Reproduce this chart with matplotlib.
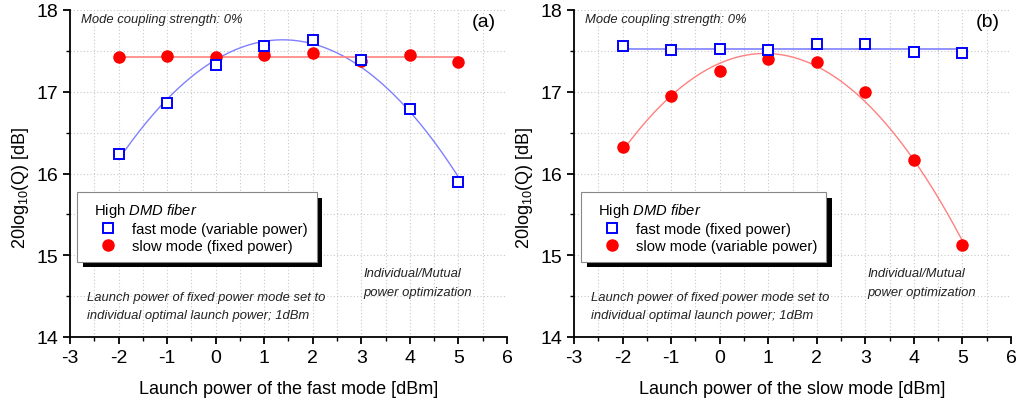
import matplotlib.pyplot as plt
import numpy as np
from matplotlib.ticker import MultipleLocator
import matplotlib.patheffects as pe

plt.rcParams["font.family"] = ["Liberation Sans", "DejaVu Sans"]
plt.rcParams["axes.unicode_minus"] = False
plt.rcParams["mathtext.fontset"] = "custom"
plt.rcParams["mathtext.rm"] = "Liberation Sans"
plt.rcParams["mathtext.it"] = "Liberation Sans:italic"

# launch power of the variable mode [dBm]
launch_power = [-2, -1, 0, 1, 2, 3, 4, 5]

# panel (a): fast mode varied, slow mode fixed
fast_a = [16.24, 16.86, 17.33, 17.56, 17.63, 17.385, 16.79, 15.89]
slow_a = [17.43, 17.44, 17.42, 17.45, 17.48, 17.38, 17.45, 17.37]

# panel (b): slow mode varied, fast mode fixed
fast_b = [17.56, 17.51, 17.52, 17.51, 17.59, 17.58, 17.49, 17.47]
slow_b = [16.33, 16.95, 17.25, 17.40, 17.36, 17.00, 16.16, 15.12]

panels = [
    ("(a)", "fast", fast_a, slow_a, "fast mode (variable power)", "slow mode (fixed power)"),
    ("(b)", "slow", fast_b, slow_b, "fast mode (fixed power)", "slow mode (variable power)"),
]

fig = plt.figure(figsize=(10.18, 4.02), dpi=100)
axes = [fig.add_axes([70 / 1018, 64 / 402, 437 / 1018, 327 / 402]),
        fig.add_axes([574 / 1018, 64 / 402, 437 / 1018, 327 / 402])]

x = np.array(launch_power, dtype=float)
xfit = np.linspace(-2, 5, 200)

for ax, (tag, varied, fast, slow, fast_lbl, slow_lbl) in zip(axes, panels):
    # fit lines: quadratic for the varied mode, constant for the fixed mode
    if varied == "fast":
        ax.plot(xfit, np.polyval(np.polyfit(x, fast, 2), xfit), color="#8080ff", lw=1, zorder=2)
        ax.plot([-2, 5], [np.mean(slow)] * 2, color="#ff8080", lw=1.2, zorder=2)
    else:
        ax.plot([-2, 5], [np.mean(fast)] * 2, color="#8080ff", lw=1.2, zorder=2)
        ax.plot(xfit, np.polyval(np.polyfit(x, slow, 2), xfit), color="#ff8080", lw=1, zorder=2)

    h1, = ax.plot(x, fast, "s", mfc="white", mec="#0000ff", mew=1.4, ms=6.5, zorder=4, label=fast_lbl)
    h2, = ax.plot(x, slow, "o", color="#ff0000", ms=8, zorder=3, label=slow_lbl)

    ax.set_xlim(-3, 6)
    ax.set_ylim(14, 18)
    ax.xaxis.set_major_locator(MultipleLocator(1))
    ax.xaxis.set_minor_locator(MultipleLocator(0.5))
    ax.yaxis.set_major_locator(MultipleLocator(1))
    ax.yaxis.set_minor_locator(MultipleLocator(0.5))
    ax.grid(True, which="both", ls=(0, (1, 2)), color="#c8c8c8", lw=0.8)
    ax.set_axisbelow(True)
    for s in ("top", "right"):
        ax.spines[s].set_visible(False)
    for s in ("left", "bottom"):
        ax.spines[s].set_linewidth(1.3)
    ax.tick_params(which="major", direction="out", length=5, width=1.3, labelsize=14)
    ax.tick_params(which="minor", direction="out", length=3, width=1)

    ax.set_xlabel(f"Launch power of the {varied} mode [dBm]", fontsize=13, labelpad=10)
    ax.set_ylabel("20log$_{10}$(Q) [dB]", fontsize=13)
    ax.yaxis.set_label_coords(-0.09, 0.46)

    ax.text(0.025, 0.972, "Mode coupling strength: 0%", transform=ax.transAxes,
            fontsize=9.4, style="italic", va="center", color="#222222")
    ax.text(0.975, 0.965, tag, transform=ax.transAxes, fontsize=14, ha="right", va="center")
    ax.text(-2.65, 14.38, "Launch power of fixed power mode set to\nindividual optimal launch power; 1dBm",
            fontsize=9.4, style="italic", va="center", linespacing=1.75, color="#222222")
    ax.text(3.05, 14.67, "Individual/Mutual\npower optimization",
            fontsize=9.4, style="italic", va="center", linespacing=1.75, color="#222222")

    leg = ax.legend(handles=[h1, h2], title="  High $\\mathit{DMD\\ fiber}$",
                    loc="upper left", bbox_to_anchor=(0.016, 0.443), fontsize=10.6,
                    title_fontsize=10.6, frameon=True, fancybox=False, shadow=False,
                    framealpha=1, borderpad=0.6, handletextpad=0.15, labelspacing=0.2,
                    handlelength=3.0, borderaxespad=0)
    leg._legend_box.align = "left"
    frame = leg.get_frame()
    frame.set_facecolor("white")
    frame.set_edgecolor("#888888")
    frame.set_linewidth(0.8)
    frame.set_path_effects([pe.SimplePatchShadow(offset=(4, -4), shadow_rgbFace="black", alpha=1), pe.Normal()])

fig.savefig("out.png", dpi=100)
